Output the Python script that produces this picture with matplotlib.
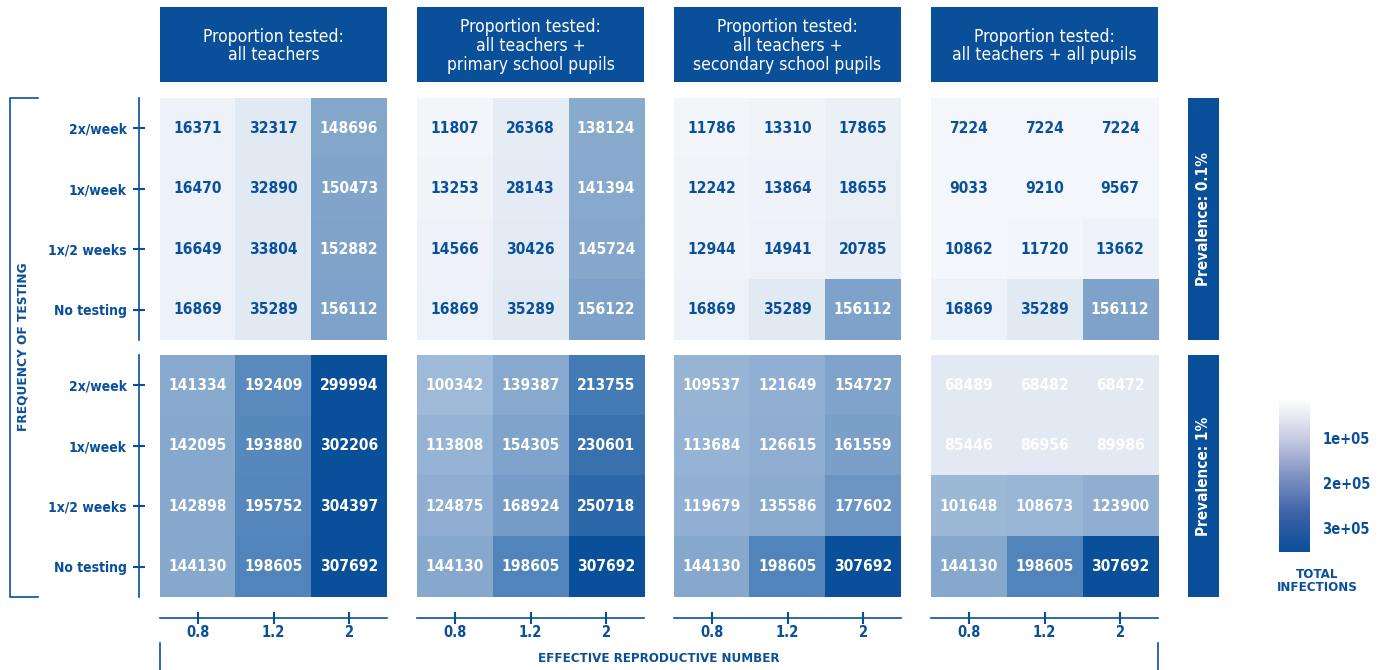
import numpy as np
import matplotlib
matplotlib.use("Agg")
import matplotlib.pyplot as plt
from matplotlib.colors import LinearSegmentedColormap, Normalize

plt.rcParams['font.family'] = ['DejaVu Sans']
plt.rcParams['font.stretch'] = 'condensed'

# ---------------- data ----------------
proportion_labels = ["Proportion tested:\nall teachers",
                     "Proportion tested:\nall teachers +\nprimary school pupils",
                     "Proportion tested:\nall teachers +\nsecondary school pupils",
                     "Proportion tested:\nall teachers + all pupils"]
frequency_labels = ["2x/week", "1x/week", "1x/2 weeks", "No testing"]
r_labels = ["0.8", "1.2", "2"]
prevalence_labels = ["Prevalence: 0.1%", "Prevalence: 1%"]

prev01_teachers = [[16371, 32317, 148696], [16470, 32890, 150473],
                   [16649, 33804, 152882], [16869, 35289, 156112]]
prev01_primary = [[11807, 26368, 138124], [13253, 28143, 141394],
                  [14566, 30426, 145724], [16869, 35289, 156122]]
prev01_secondary = [[11786, 13310, 17865], [12242, 13864, 18655],
                    [12944, 14941, 20785], [16869, 35289, 156112]]
prev01_all = [[7224, 7224, 7224], [9033, 9210, 9567],
              [10862, 11720, 13662], [16869, 35289, 156112]]

prev1_teachers = [[141334, 192409, 299994], [142095, 193880, 302206],
                  [142898, 195752, 304397], [144130, 198605, 307692]]
prev1_primary = [[100342, 139387, 213755], [113808, 154305, 230601],
                 [124875, 168924, 250718], [144130, 198605, 307692]]
prev1_secondary = [[109537, 121649, 154727], [113684, 126615, 161559],
                   [119679, 135586, 177602], [144130, 198605, 307692]]
prev1_all = [[68489, 68482, 68472], [85446, 86956, 89986],
             [101648, 108673, 123900], [144130, 198605, 307692]]

panels = [[prev01_teachers, prev01_primary, prev01_secondary, prev01_all],
          [prev1_teachers, prev1_primary, prev1_secondary, prev1_all]]

# ---------------- style ----------------
BLUE = "#0a4f9a"
W, H = 1380, 670
VMAX = 310000
anchors = [(0, "#f6f8fc"), (10000, "#f3f6fb"), (18000, "#ebf0f7"),
           (33000, "#e1e9f3"), (90000, "#e3eaf4"), (100000, "#9cb9d8"),
           (120000, "#92b0d3"), (145000, "#85a8cc"), (165000, "#799ec8"),
           (180000, "#6a94c2"), (200000, "#5084bb"), (230000, "#3a72b0"),
           (250000, "#2e68aa"), (300000, "#0a4f9a"), (VMAX, "#0a4f9a")]
cell_cmap = LinearSegmentedColormap.from_list(
    "cells", [(v / VMAX, c) for v, c in anchors])
norm = Normalize(0, VMAX)
bar_cmap = LinearSegmentedColormap.from_list(
    "bar", ["#ffffff", "#c9cde4", "#8193c4", "#3d62a9", "#0a4f9a"])

fig = plt.figure(figsize=(W / 100, H / 100), dpi=100)


def add_px_axes(x, y, w, h, **kw):
    return fig.add_axes([x / W, 1 - (y + h) / H, w / W, h / H], **kw)


col_x = [160, 417, 674, 931]
col_w = 227
row_y = [98, 355]
row_h = 242

for r in range(2):
    for c in range(4):
        ax = add_px_axes(col_x[c], row_y[r], col_w, row_h)
        data = np.array(panels[r][c], dtype=float)
        ax.imshow(data, cmap=cell_cmap, norm=norm, aspect='auto',
                  interpolation='nearest', extent=(-0.5, 2.5, 3.5, -0.5))
        for i in range(data.shape[0]):
            for j in range(data.shape[1]):
                v = data[i, j]
                ax.text(j, i, f"{int(v)}", ha='center', va='center',
                        fontsize=11.2, fontweight='bold',
                        color='white' if v > 50000 else BLUE)
        for s in ['top', 'right']:
            ax.spines[s].set_visible(False)
        # y-axis
        if c == 0:
            ax.spines['left'].set_position(('outward', 15))
            ax.spines['left'].set_color(BLUE)
            ax.spines['left'].set_linewidth(1.2)
            ax.set_yticks(range(4))
            ax.set_yticklabels(frequency_labels)
            ax.tick_params(axis='y', direction='inout', length=8, width=1.5,
                           color=BLUE, labelcolor=BLUE, labelsize=10, pad=5)
            for t in ax.get_yticklabels():
                t.set_fontweight('bold')
        else:
            ax.spines['left'].set_visible(False)
            ax.set_yticks([])
        # x-axis
        if r == 1:
            ax.spines['bottom'].set_position(('outward', 15))
            ax.spines['bottom'].set_color(BLUE)
            ax.spines['bottom'].set_linewidth(1.2)
            ax.set_xticks(range(3))
            ax.set_xticklabels(r_labels)
            ax.tick_params(axis='x', direction='inout', length=8, width=1.5,
                           color=BLUE, labelcolor=BLUE, labelsize=10.5, pad=1)
            for t in ax.get_xticklabels():
                t.set_fontweight('bold')
        else:
            ax.spines['bottom'].set_visible(False)
            ax.set_xticks([])

# headers
for c in range(4):
    hx = add_px_axes(col_x[c], 7, col_w, 75)
    hx.set_facecolor(BLUE)
    hx.set_xticks([]); hx.set_yticks([])
    for s in hx.spines.values():
        s.set_visible(False)
    hx.text(0.5, 0.48, proportion_labels[c], ha='center', va='center',
            color='white', fontsize=12.5, linespacing=1.05,
            fontweight='medium', transform=hx.transAxes)

# prevalence strips
for r in range(2):
    sx = add_px_axes(1188, row_y[r], 31, row_h)
    sx.set_facecolor(BLUE)
    sx.set_xticks([]); sx.set_yticks([])
    for s in sx.spines.values():
        s.set_visible(False)
    sx.text(0.5, 0.5, prevalence_labels[r], ha='center', va='center',
            rotation=90, color='white', fontsize=11, fontweight='bold',
            transform=sx.transAxes)

# colorbar
cb_top, cb_bot = 15600, 353000
cax = add_px_axes(1279, 400, 31, 152)
grad = np.linspace(cb_top, cb_bot, 256).reshape(-1, 1)
cax.imshow(grad, cmap=bar_cmap, norm=Normalize(cb_top, cb_bot), aspect='auto',
           extent=(0, 1, cb_bot, cb_top))
cax.set_ylim(cb_bot, cb_top)
cax.set_xticks([])
cax.yaxis.tick_right()
cax.set_yticks([100000, 200000, 300000])
cax.set_yticklabels(["1e+05", "2e+05", "3e+05"])
cax.tick_params(axis='y', length=0, pad=9, labelcolor=BLUE, labelsize=10.5)
for t in cax.get_yticklabels():
    t.set_fontweight('bold')
for s in cax.spines.values():
    s.set_visible(False)

# overlay for brackets and titles
ov = add_px_axes(0, 0, W, H)
ov.set_xlim(0, W); ov.set_ylim(H, 0)
ov.axis('off')
ov.patch.set_visible(False)
ov.plot([38, 10, 10, 38], [98, 98, 597, 597], color=BLUE, lw=1.2)
ov.text(23, 347, "FREQUENCY OF TESTING", rotation=90, ha='center',
        va='center', color=BLUE, fontsize=9.7, fontweight='bold')
ov.plot([160, 160], [643, 670], color=BLUE, lw=1.2)
ov.plot([1158, 1158], [643, 670], color=BLUE, lw=1.2)
ov.text(659, 659, "EFFECTIVE REPRODUCTIVE NUMBER", ha='center',
        va='center', color=BLUE, fontsize=9.5, fontweight='bold')
ov.text(1317, 581, "TOTAL\nINFECTIONS", ha='center', va='center',
        color=BLUE, fontsize=9.5, fontweight='bold', linespacing=0.95)

fig.savefig("out.png", dpi=100)
